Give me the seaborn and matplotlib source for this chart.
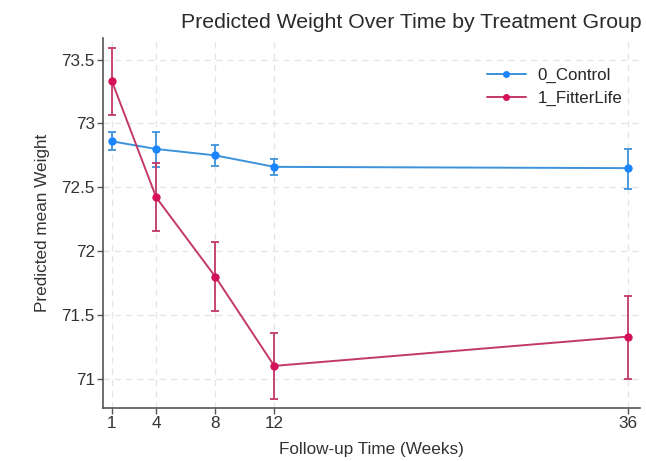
import matplotlib
matplotlib.use("Agg")
import matplotlib.pyplot as plt
from matplotlib.lines import Line2D
import seaborn as sns
import pandas as pd

sns.set_style("white")
plt.rcParams["font.family"] = ["Liberation Sans", "DejaVu Sans"]

# Follow-up weeks and predicted means with 95% CI
weeks = [1, 4, 8, 12, 36]
groups = ["0_Control", "1_FitterLife"]
control_mean = [72.86, 72.80, 72.75, 72.66, 72.65]
control_lo = [72.79, 72.66, 72.67, 72.60, 72.49]
control_hi = [72.93, 72.93, 72.83, 72.72, 72.80]
fitter_mean = [73.33, 72.42, 71.80, 71.10, 71.33]
fitter_lo = [73.07, 72.16, 71.53, 70.84, 71.00]
fitter_hi = [73.59, 72.69, 72.07, 71.36, 71.65]
y_ticks = [71, 71.5, 72, 72.5, 73, 73.5]
y_tick_labels = ["71", "71.5", "72", "72.5", "73", "73.5"]

colors = {"0_Control": "#1a85ff", "1_FitterLife": "#d41159"}
line_colors = {"0_Control": "#3d93db", "1_FitterLife": "#c2386a"}

df = pd.DataFrame({
    "week": weeks * 2,
    "group": [groups[0]] * len(weeks) + [groups[1]] * len(weeks),
    "mean": control_mean + fitter_mean,
    "lo": control_lo + fitter_lo,
    "hi": control_hi + fitter_hi,
})

fig = plt.figure(figsize=(6.46, 4.61), dpi=100)
ax = fig.add_axes([103 / 646, 1 - 408 / 461, (640 - 103) / 646, (408 - 38) / 461])

for g in groups:
    sub = df[df["group"] == g]
    ax.errorbar(sub["week"], sub["mean"],
                yerr=[sub["mean"] - sub["lo"], sub["hi"] - sub["mean"]],
                fmt="none", ecolor=line_colors[g], elinewidth=1.3,
                capsize=3, capthick=1.3, zorder=2)

sns.lineplot(data=df, x="week", y="mean", hue="group", palette=line_colors,
             marker="o", markersize=6, linewidth=1.4, markeredgewidth=0,
             ax=ax, legend=False, zorder=3)
# brighter marker fill per group
for line, g in zip(ax.lines[-2:], groups):
    line.set_markerfacecolor(colors[g])

ax.set_xlim(0.39, 36.8)
ax.set_ylim(70.77, 73.67)
ax.set_xticks(weeks)
ax.set_xticklabels([str(w) for w in weeks], fontsize=12.3, color="#333333")
ax.set_yticks(y_ticks)
ax.set_yticklabels(y_tick_labels, fontsize=12.3, color="#333333")
ax.grid(True, linestyle=(0, (5, 4)), color="#e4e4e4", linewidth=0.9)
for s in ["top", "right"]:
    ax.spines[s].set_visible(False)
for s in ["left", "bottom"]:
    ax.spines[s].set_color("#555555")
    ax.spines[s].set_linewidth(1.2)
ax.tick_params(axis="both", direction="out", length=4, width=1, color="#555555",
               left=True, bottom=True, pad=2)

ax.set_xlabel("Follow-up Time (Weeks)", fontsize=12.3, color="#333333", labelpad=8)
ax.set_ylabel("Predicted mean Weight", fontsize=12.3, color="#333333", labelpad=8)

handles = [Line2D([0], [0], color=line_colors[g], marker="o", markersize=5,
                  markerfacecolor=colors[g], markeredgewidth=0, linewidth=1.4)
           for g in groups]
ax.legend(handles, groups, loc="upper right", bbox_to_anchor=(0.996, 0.961),
          frameon=False, fontsize=12.2, handlelength=2.3, labelspacing=0.5,
          handletextpad=0.7)

fig.text(411 / 646, 1 - 22 / 461, "Predicted Weight Over Time by Treatment Group",
         ha="center", va="center", fontsize=15.3, color="#2a2a2a")

fig.savefig("out.png", dpi=100)
